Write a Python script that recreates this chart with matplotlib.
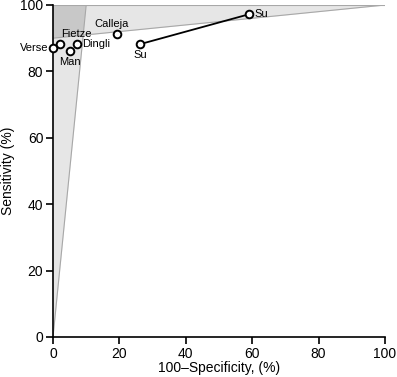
import matplotlib
matplotlib.use("Agg")
import matplotlib.pyplot as plt
import numpy as np

plt.rcParams['font.family'] = ['Liberation Sans', 'DejaVu Sans']

# Study points: 100-specificity (%), sensitivity (%)
studies = ["Verse", "Fietze", "Man", "Dingli", "Calleja", "Su", "Su"]
fpr = [0.0, 2.1, 5.1, 7.1, 19.2, 26.2, 59.0]
sens = [87.1, 88.2, 86.1, 88.2, 91.3, 88.2, 97.2]
# label offsets in points (dx, dy), alignment
label_pos = [(-3, 0, 'right', 'center'),
             (12, 7, 'center', 'center'),
             (0, -8, 'center', 'center'),
             (4, 0, 'left', 'center'),
             (-4, 7, 'center', 'center'),
             (0, -8, 'center', 'center'),
             (4, 0, 'left', 'center')]

# Regions: LR+ > 10 and LR- < 0.1
lr_pos = 10.0
lr_neg = 0.1

fig = plt.figure(figsize=(3.97, 3.77), dpi=100)
ax = fig.add_axes([53/397, 40/377, 332/397, 332/377])

light = '#e6e6e6'
dark = '#c8c8c8'
edge = '#a8a8a8'

y = np.array([0, 100])
# LR+ region: sens > lr_pos * fpr
xs_pos = y / lr_pos
ax.fill_betweenx(y, 0, xs_pos, color=light, lw=0, zorder=0)
ax.plot(xs_pos, y, color=edge, lw=0.8, zorder=1)
# LR- region: 100 - sens < lr_neg * (100 - fpr)
x = np.array([0, 100])
ys_neg = 100 - lr_neg * (100 - x)
ax.fill_between(x, ys_neg, 100, color=light, lw=0, zorder=0)
ax.plot(x, ys_neg, color=edge, lw=0.8, zorder=1)
ax.plot(x, [100, 100], color=edge, lw=0.8, zorder=1)
# Intersection
xi = 100 * (1 - lr_neg) / (lr_pos - lr_neg)  # intersection fpr
yi = lr_pos * xi
ax.fill([0, xi, 100 / lr_pos, 0], [100 - lr_neg * 100, yi, 100, 100], color=dark, lw=0, zorder=0.5)

# Su line
ax.plot(fpr[5:7], sens[5:7], color='black', lw=1.3, zorder=2)
ax.plot(fpr, sens, 'o', ms=5.5, mfc='white', mec='black', mew=1.4, zorder=3, clip_on=False)

for name, fx, sy, (dx, dy, ha, va) in zip(studies, fpr, sens, label_pos):
    ax.annotate(name, (fx, sy), xytext=(dx, dy), textcoords='offset points',
                ha=ha, va=va, fontsize=8, zorder=4)

ax.set_xlim(0, 100)
ax.set_ylim(0, 100)
ax.set_xticks([0, 20, 40, 60, 80, 100])
ax.set_yticks([0, 20, 40, 60, 80, 100])
ax.spines['top'].set_visible(False)
ax.spines['right'].set_visible(False)
ax.spines['left'].set_linewidth(1.2)
ax.spines['bottom'].set_linewidth(1.2)
ax.tick_params(direction='out', length=5, width=1.2, labelsize=10, pad=2)
ax.set_xlabel("100\u2013Specificity, (%)", fontsize=10, labelpad=0)
ax.set_ylabel("Sensitivity (%)", fontsize=10, labelpad=4)

fig.savefig("out.png", dpi=100)
